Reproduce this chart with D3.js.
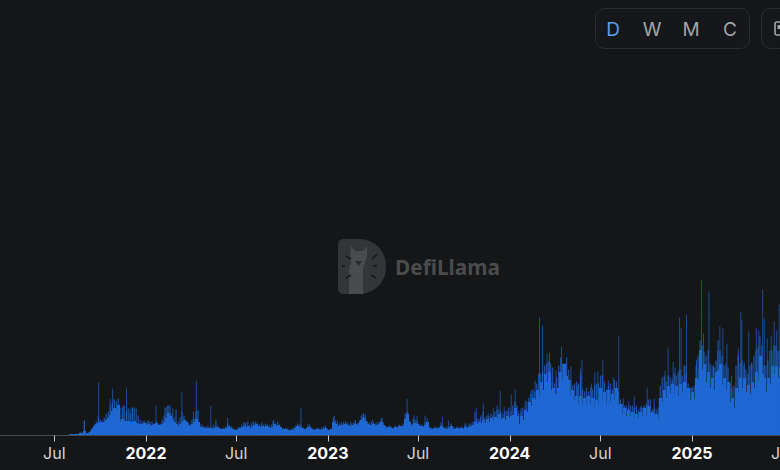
<!DOCTYPE html>
<html><head><meta charset="utf-8">
<script src="https://cdn.jsdelivr.net/npm/d3@7/dist/d3.min.js"></script>
<style>html,body{margin:0;padding:0;background:#141618;overflow:hidden}svg{display:block}</style>
</head><body><svg id="c" width="780" height="470"></svg>
<script>
// Typical volume, one reading per 4 days from the start date
const startDate = new Date(2021, 2, 14);
const stepDays = 4;
const baseVolume = [
0,0,0,0,0,0,0,0,0,0,
.5,.5,.7,.7,.7,.7,1,.7,.7,.7,.7,.7,.7,.7,.7,1,.7,.7,.7,.7,
.7,.7,.7,.7,1,1.2,1.2,1.5,1.6,1.8,
2.5,3,4.5,2,2.5,4,7,10,12,13,
14,13,14,16,18,21,25,28,27,31,
14,17,15,14,15,14,14,15,13,12,
12,12,13,11,12,10,11,12,13,11,
11,12,14,18,23,20,16,14,12,10,
12,14,16,14,11,10,12,14,17,14,
9,9,8,8,8,8,7,8,9,8,
7,7,7,8,10,8,7,6,6,7,
8,9,10,9,10,8,9,11,12,10,
9,10,9,10,9,8,9,12,10,11,
9,7,6,7,6,5,6,6,8,10,
9,8,7,6,8,9,7,6,6,7,
6,6,7,8,6,6,7,14,12,10,
10,11,10,12,11,9,10,11,12,10,
13,16,18,15,12,11,11,12,10,11,
12,14,11,9,8,9,8,7,9,8,
10,9,10,17,22,14,10,12,13,12,
10,10,9,11,14,8,7,7,8,7,
8,10,8,7,7,8,10,7,7,8,
7,8,7,9,8,9,10,11,14,12,
14,13,16,13,17,14,18,15,19,17,
22,17,18,16,20,18,20,21,28,20,
12,20,16,26,24,34,30,38,36,46,
40,54,46,62,54,64,46,48,36,42,
48,64,56,72,60,56,40,46,36,40,
32,40,30,38,32,40,32,38,26,36,
32,48,38,44,32,46,34,42,36,48,
30,32,22,28,20,26,20,24,18,22,
18,24,19,28,20,30,23,24,19,22,
18,38,34,46,38,50,42,52,42,50,
40,52,44,54,42,48,36,44,37,58,
56,86,66,72,54,64,48,58,46,64,
66,72,52,58,46,54,34,38,28,48,
44,58,48,58,44,51,42,54,48,64,
56,80,62,58,44,58,52,70,62,70,
58,68];
// Higher days inside each 4-day reading
const upperVolume = [
0,0,0,0,0,0,0,0,0,0,0,0,0,0,0,0,0,0,0,0,
0,0,0,0,0,0,0,0,0,0,0,0,0,0,0,0,0,0,0,0,
3,3,15,2,3,5,8,11,14,20,
16,15,18,22,24,30,34,36,34,37,
16,28,30,24,27,22,28,28,27,20,
16,14,15,13,15,14,14,12,14,11,
12,16,20,28,30,30,22,18,26,14,
18,24,20,15,14,12,16,18,24,25,
11,11,9,9,10,8,9,11,16,10,
8,7,8,9,12,10,9,7,6,8,
9,11,13,12,14,10,11,13,14,12,
11,13,11,12,11,10,11,15,12,14,
11,8,7,8,7,6,7,8,10,12,
11,10,8,7,9,11,8,7,7,8,
7,8,9,10,7,6,7,18,15,12,
12,13,12,14,13,11,12,13,15,12,
15,20,22,19,14,13,13,14,12,13,
14,17,13,10,9,10,9,8,10,9,
11,10,12,22,24,16,11,17,16,15,
12,11,10,13,17,9,8,8,9,8,
9,13,9,8,9,9,12,8,8,9,
8,9,8,11,10,12,12,14,24,17,
16,20,24,18,20,19,22,20,24,26,
26,24,22,24,25,28,24,30,34,30,
22,24,28,26,34,38,42,46,44,52,
62,62,64,70,72,74,72,68,52,58,
70,78,72,72,78,66,56,50,52,54,
52,62,46,44,48,44,48,46,50,52,
52,60,60,54,46,50,52,46,56,54,
44,36,32,30,30,28,30,30,28,30,
26,28,28,30,32,36,36,26,28,26,
28,50,58,60,54,60,58,56,62,60,
64,66,60,70,62,52,48,48,50,70,
80,95,90,84,80,85,72,70,68,75,
95,85,80,70,72,68,52,48,50,70,
80,72,75,70,66,62,70,72,80,85,
88,100,90,70,70,75,85,85,90,90,
85,85];
// Single-day peaks: day number since start, and the volume of that day
const spikeDays = [169,198,221,226,241,247,254,261,266,297,313,331,337,347,365,388,394,423,457,
492,504,508,548,604,618,671,677,689,703,713,729,733,747,767,
817,819,831,837,853,888,900,934,956,964,970,980,990,998,1004,1012,1020,1026,1034,1040,
1046,1054,1066,1074,1083,1089,1098,1103,1108,1116,1127,1135,1146,1159,1165,1168,1178,1187,1194,1200,1210,1221,1231,1242,1251,1262,1273,1287,1299,
1313,1323,1335,1341,1351,1355,1364,1367,1375,1378,1389,1398,1403,1408,1412,1423,1432,1441,1445,1451,1459,1468,1482,1487,1489,1494,1503,1508,1518,1523,1531,1534,1540,1548,1554,1559,1564];
const spikeValues = [15,53,37,47,28,30,48,27,28,14,30,28,30,27,43,24,55,30,18,
13,13,14,15,28,12,20,15,14,14,15,22,22,16,18,
37,23,20,20,20,19,15,13,28,18,32,22,27,30,45,29,24,41,46,25,
27,35,45,55,118,110,82,83,53,65,89,70,69,50,67,75,40,52,63,64,75,55,58,99,37,34,39,30,48,
37,37,65,88,74,68,118,108,70,121,48,76,67,155,102,144,70,85,109,107,92,60,87,124,115,73,104,73,108,105,146,117,97,100,114,105,131];
const tickDates = [new Date(2021,6,1),new Date(2022,0,1),new Date(2022,6,1),new Date(2023,0,1),new Date(2023,6,1),new Date(2024,0,1),new Date(2024,6,1),new Date(2025,0,1),new Date(2025,6,1)];
const gridValues = [58.7,117.4,176.1,234.8,293.5,352.2];
const ranges = ["D","W","M","C"];

const svg = d3.select("#c");
const blue = "#1f67d2";
const x = d3.scaleTime().domain([new Date(2022,0,1),new Date(2025,0,1)]).range([146,692]);
const y = d3.scaleLinear().domain([0,410.5]).range([435.5,25]);
const dayAt = n => d3.timeDay.offset(startDate,n);

svg.append("g").selectAll("line").data(gridValues).join("line")
  .attr("x1",0).attr("x2",780).attr("y1",d=>Math.round(y(d))+.5).attr("y2",d=>Math.round(y(d))+.5)
  .attr("stroke","#17191b");

// watermark
const wm = svg.append("g").attr("transform","translate(338,239)");
wm.append("path").attr("d","M6 0H20C38 0 48 13 48 27.5C48 42 38 55 20 55H6C2 55 0 53 0 49V6C0 2 2 0 6 0Z").attr("fill","#343537");
wm.append("path").attr("d","M13 7L17 12L25 12L29 7L29 17L27 24L25 30V55H11V30L13 24L12 17Z").attr("fill","#4a4b4c");
wm.append("path").attr("d","M17 22L24 22L20.5 27Z").attr("fill","#2a2b2d");
wm.append("g").selectAll("line").data([[8,17,13,20],[34,20,39,15],[4,27,7,27],[35,27,39,27],[8,39,13,36],[33,36,38,39]]).join("line")
  .attr("x1",d=>d[0]).attr("y1",d=>d[1]).attr("x2",d=>d[2]).attr("y2",d=>d[3]).attr("stroke","#18191b").attr("stroke-width",1.6);
svg.append("text").attr("x",395).attr("y",274.5).attr("font-family","'Noto Sans',sans-serif").attr("font-weight",700).attr("font-size",20.8)
  .attr("fill","#4a4b4c").text("DefiLlama");

// bars
svg.append("g").selectAll("rect").data(upperVolume).join("rect")
  .attr("x",(d,i)=>x(dayAt(i*stepDays))).attr("width",1.3)
  .attr("y",d=>y(d)).attr("height",d=>y(0)-y(d)).attr("fill",blue).attr("opacity",.7);
svg.append("g").attr("shape-rendering","crispEdges").selectAll("rect").data(baseVolume).join("rect")
  .attr("x",(d,i)=>Math.floor(x(dayAt(i*stepDays))))
  .attr("width",3)
  .attr("y",d=>y(d)).attr("height",d=>y(0)-y(d)).attr("fill",blue);
svg.append("g").selectAll("rect").data(spikeDays).join("rect")
  .attr("x",d=>x(dayAt(d))-.45).attr("width",.9)
  .attr("y",(d,i)=>y(spikeValues[i])).attr("height",(d,i)=>y(0)-y(spikeValues[i])).attr("fill",blue).attr("opacity",.75);

// x axis
const axis = svg.append("g").attr("transform","translate(0,435.5)");
axis.append("line").attr("x1",0).attr("x2",780).attr("stroke","#47494c").attr("stroke-width",1);
axis.selectAll("line.t").data(tickDates).join("line").attr("class","t")
  .attr("x1",d=>Math.round(x(d))+.5).attr("x2",d=>Math.round(x(d))+.5).attr("y1",0).attr("y2",6).attr("stroke","#c8c8c8");
axis.selectAll("text").data(tickDates).join("text")
  .attr("x",d=>x(d)).attr("y",23.5).attr("text-anchor","middle")
  .attr("font-family","Inter,sans-serif").attr("font-size",16)
  .attr("font-weight",d=>d.getMonth()===0?700:400)
  .attr("fill",d=>d.getMonth()===0?"#ffffff":"#d4d4d4")
  .text(d=>d.getMonth()===0?d3.timeFormat("%Y")(d):d3.timeFormat("%b")(d));

// range buttons
svg.append("rect").attr("x",595.5).attr("y",8.5).attr("width",154).attr("height",40).attr("rx",9)
  .attr("fill","#15171a").attr("stroke","#2a2c30");
svg.append("g").selectAll("text").data(ranges).join("text")
  .attr("x",(d,i)=>613+i*39).attr("y",36).attr("text-anchor","middle")
  .attr("font-family","Inter,sans-serif").attr("font-size",19)
  .attr("fill",(d,i)=>i===0?"#5c9ded":"#a3a4a6").text(d=>d);
svg.append("rect").attr("x",761.5).attr("y",8.5).attr("width",60).attr("height",40).attr("rx",9)
  .attr("fill","#15171a").attr("stroke","#2a2c30");
svg.append("rect").attr("x",775).attr("y",22).attr("width",9).attr("height",13).attr("rx",2)
  .attr("fill","none").attr("stroke","#a3a4a6").attr("stroke-width",1.6);
svg.append("rect").attr("x",777.5).attr("y",25).attr("width",4).attr("height",4).attr("fill","#a3a4a6");
</script></body></html>
